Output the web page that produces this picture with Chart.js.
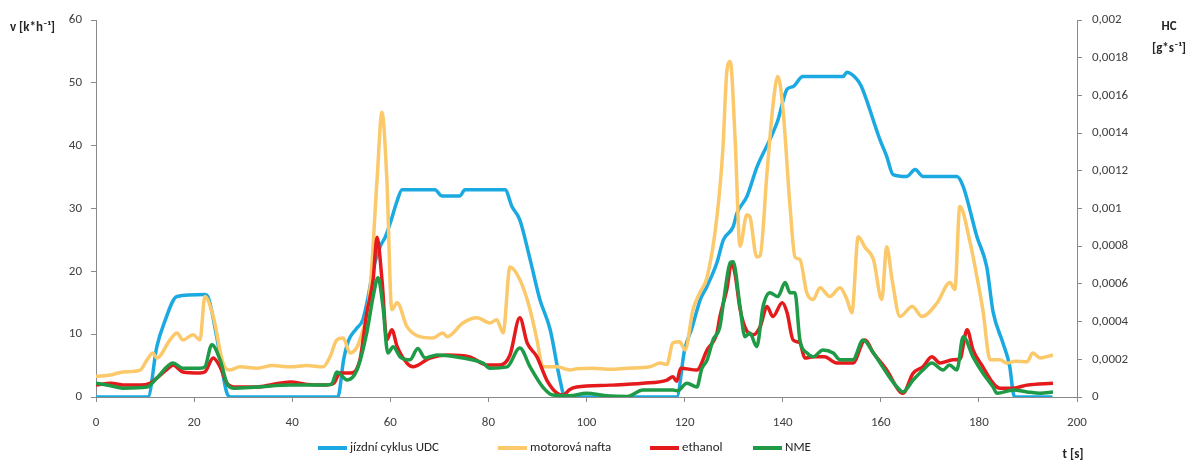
<!DOCTYPE html>
<html>
<head>
<meta charset="utf-8">
<script src="https://cdn.jsdelivr.net/npm/chart.js@4.4.1/dist/chart.umd.min.js"></script>
<style>
  html, body { margin: 0; padding: 0; background: #ffffff; }
  #wrap { width: 1195px; height: 464px; }
</style>
</head>
<body>
<div id="wrap"><canvas id="c" width="1195" height="464"></canvas></div>
<script>
// ---- Data ----
const seriesNames = ['jízdní cyklus UDC', 'motorová nafta', 'ethanol', 'NME'];
const seriesColors = ['#1BA9E1', '#FBC86A', '#E41A1C', '#1F9A47'];

// Driving cycle UDC: time [s] / speed [km/h]
const timeUDC = [0,10.6,12.4,14,16.5,22.2,22.8,24.6,26.7,27.5,49.3,50.5,51.5,53,54.4,55.5,56.5,57.9,59,60,61.3,62.4,69.1,70.5,74.2,75.2,83.4,84.8,86.4,88.5,90.5,92.6,94.6,95.6,118.4,120,121.5,123.2,124.5,126.6,127.9,129.9,130.7,132.7,134.8,137.4,139,140.9,142.1,144.1,152.3,153.1,155.1,156,159.8,161.2,162.5,165.3,167,168.6,175.5,176.8,179.6,181.6,182.9,184.9,186.3,187,187.5,195];
const speedUDC = [0,0,8,12,16,16.3,16,9.6,0.6,0,0,6,9,10.8,12.3,16,20.3,23.9,25.5,27.7,31,33,33,32,32,33,33,30.3,28.2,21.9,15.5,10.7,2.7,0,0,7.5,11,15.5,17.5,21.4,25,27.1,29.3,31.9,36.7,41,44,49,49.4,51,51,51.7,50.6,49.5,41,38.3,35.4,35.1,36.2,35.1,35.1,33.5,25.5,20.7,13.5,8.6,4.8,0.6,0,0];

// HC emissions [g/s] — diesel (motorová nafta)
const timeNafta = [0,3,5.5,9,10.4,11.6,12.4,15.1,16.5,17.7,19.8,21.2,22.2,23.9,25.9,27.3,29.4,32.8,36,39.6,43,46.3,47.7,49.1,50.4,51.8,53.8,55.9,57.3,58.3,59.3,60.3,61.4,63.4,66,68.7,70.7,71.6,74.8,77.7,80.3,81.7,83,84.4,86.4,88.5,89.9,91.1,94,96.6,98,101.3,105,108.3,112.9,115,116.4,117.6,119,120.1,121.7,123.1,124.6,126.6,127.8,128.6,129.3,130.3,131.3,132.7,133.3,134.7,135.4,136.8,138,139,140,141.5,142.5,143.5,144.9,146.2,147.6,149.6,151.7,153.1,154.1,155.4,156.8,158.5,160.2,161.2,162.3,163.9,166.4,168.4,171.5,174.1,175.1,176.1,178.2,179.6,180.8,182.3,184.3,185.7,187.5,189.8,191,192.5,195.1];
const hcNafta = [1.10e-4,1.17e-4,1.33e-4,1.43e-4,1.97e-4,2.33e-4,2.07e-4,3.03e-4,3.40e-4,3.03e-4,3.30e-4,3.03e-4,5.33e-4,4.27e-4,1.80e-4,1.43e-4,1.60e-4,1.53e-4,1.67e-4,1.60e-4,1.67e-4,1.60e-4,2.13e-4,3.03e-4,3.13e-4,2.33e-4,3.03e-4,5.83e-4,11.53e-4,15.10e-4,11.53e-4,4.63e-4,5.00e-4,3.73e-4,3.20e-4,3.13e-4,3.40e-4,3.20e-4,3.93e-4,4.20e-4,3.93e-4,4.10e-4,3.40e-4,6.90e-4,6.23e-4,4.63e-4,3.03e-4,1.60e-4,1.60e-4,1.43e-4,1.50e-4,1.53e-4,1.47e-4,1.53e-4,1.60e-4,1.80e-4,1.73e-4,2.87e-4,2.93e-4,2.50e-4,4.63e-4,5.53e-4,6.37e-4,9.57e-4,13.13e-4,17.23e-4,17.80e-4,13.67e-4,8.00e-4,9.67e-4,9.57e-4,7.43e-4,7.50e-4,11.90e-4,15.43e-4,17.00e-4,15.43e-4,10.10e-4,7.43e-4,7.30e-4,5.53e-4,5.17e-4,5.80e-4,5.33e-4,5.80e-4,5.17e-4,4.47e-4,8.50e-4,7.93e-4,7.30e-4,5.17e-4,7.97e-4,6.23e-4,4.27e-4,4.80e-4,4.27e-4,5.00e-4,6.07e-4,5.70e-4,10.10e-4,8.20e-4,6.37e-4,4.63e-4,1.97e-4,1.97e-4,1.80e-4,1.90e-4,1.87e-4,2.33e-4,2.07e-4,2.23e-4];

// HC emissions [g/s] — ethanol
const timeEthanol = [0,3,6,9,11,12.4,15.1,15.7,17.7,21.2,22.2,23.9,25.3,26.7,28,32.8,36,39.6,43,46.3,48.5,49.7,51.8,53.8,55.2,56.5,57.3,58.3,59.3,60.3,61.4,63.4,64.6,68.1,71.6,76.2,79.7,82.4,84.4,86.4,87.9,89.9,91.9,94,95.2,96.6,98,104.8,111.5,116.4,117.6,118.4,119.2,122.5,124.6,126.6,127.2,128.6,129.6,130.3,131.3,132.7,134,135.4,136.8,138,139.9,140.9,142.1,143.5,144.5,146.2,148.5,151,154.3,156.8,158.5,161.2,163.9,164.5,166.6,168.6,170.4,172.1,174.7,176.1,177.6,178.8,180.8,182.9,184.3,187,189.8,195.1];
const hcEthanol = [0.63e-4,0.73e-4,0.63e-4,0.63e-4,0.73e-4,1.00e-4,1.60e-4,1.70e-4,1.33e-4,1.27e-4,1.33e-4,2.07e-4,1.60e-4,0.73e-4,0.53e-4,0.53e-4,0.67e-4,0.80e-4,0.67e-4,0.63e-4,0.73e-4,1.27e-4,1.27e-4,1.97e-4,4.47e-4,6.23e-4,8.47e-4,6.23e-4,3.03e-4,3.57e-4,2.67e-4,1.80e-4,1.60e-4,2.07e-4,2.23e-4,2.13e-4,1.70e-4,1.70e-4,2.23e-4,4.20e-4,2.87e-4,2.13e-4,0.90e-4,0.20e-4,0.10e-4,0.40e-4,0.53e-4,0.63e-4,0.73e-4,0.90e-4,1.07e-4,0.83e-4,1.53e-4,1.43e-4,2.50e-4,3.40e-4,4.27e-4,5.70e-4,7.13e-4,6.50e-4,4.67e-4,3.50e-4,3.30e-4,3.73e-4,4.80e-4,4.27e-4,5.00e-4,4.47e-4,3.03e-4,2.87e-4,2.07e-4,2.13e-4,2.13e-4,1.80e-4,1.80e-4,3.03e-4,2.33e-4,1.43e-4,0.27e-4,0.20e-4,1.27e-4,1.60e-4,2.13e-4,1.80e-4,1.97e-4,2.00e-4,3.57e-4,2.50e-4,1.60e-4,0.73e-4,0.47e-4,0.47e-4,0.63e-4,0.73e-4];

// HC emissions [g/s] — NME
const timeNME = [0,3,5.5,10.4,12.4,15.7,17.7,21.2,22.2,23.6,25.3,26.7,28,32.8,39.6,46.3,48,49.1,51.2,53.2,55.2,56.5,57.5,58.5,59.5,60.6,62,64,65.6,67.1,69.5,74.8,78.9,80.3,83.8,86.4,88.5,91.1,93.2,96.6,100,104,108.3,111.5,117.6,118.5,120.5,122.5,123.5,124.6,125.8,127.2,128,129.3,129.9,131.3,132.3,133.3,134.7,136,137.4,139,140.5,141.5,142.5,143.5,145,146.2,148.2,150.3,151.7,154.3,156.4,158.5,161.2,163.3,164.5,166.6,168.6,170.4,172.7,174,175.5,176.8,178.8,180.8,182.9,183.7,187,189.8,192.5,195.1];
const hcNME = [0.73e-4,0.60e-4,0.47e-4,0.53e-4,1.00e-4,1.80e-4,1.53e-4,1.53e-4,1.60e-4,2.77e-4,1.97e-4,0.73e-4,0.47e-4,0.53e-4,0.63e-4,0.63e-4,0.67e-4,1.33e-4,0.90e-4,1.43e-4,3.40e-4,5.33e-4,6.33e-4,4.80e-4,2.33e-4,2.67e-4,2.13e-4,1.97e-4,2.57e-4,2.07e-4,2.23e-4,2.07e-4,1.80e-4,1.53e-4,1.60e-4,2.60e-4,1.60e-4,0.53e-4,0.10e-4,0.07e-4,0.20e-4,0.07e-4,0.03e-4,0.37e-4,0.37e-4,0.33e-4,0.73e-4,0.53e-4,1.50e-4,1.97e-4,3.03e-4,3.73e-4,5.17e-4,7.13e-4,7.17e-4,4.80e-4,3.20e-4,3.40e-4,2.67e-4,4.80e-4,5.53e-4,5.33e-4,6.07e-4,5.53e-4,5.53e-4,3.03e-4,2.33e-4,2.13e-4,2.50e-4,2.33e-4,1.97e-4,1.97e-4,3.03e-4,2.33e-4,1.27e-4,0.53e-4,0.27e-4,0.90e-4,1.43e-4,1.80e-4,1.43e-4,1.70e-4,1.43e-4,3.20e-4,2.13e-4,1.27e-4,0.53e-4,0.20e-4,0.37e-4,0.27e-4,0.20e-4,0.27e-4];

// Tick values
const xTicks = [0,20,40,60,80,100,120,140,160,180,200];
const leftTicks = [0,10,20,30,40,50,60];
const rightTicks = [0,0.0002,0.0004,0.0006,0.0008,0.001,0.0012,0.0014,0.0016,0.0018,0.002];

// ---- Build chart ----
const FONT = "Carlito, Lato, 'Open Sans', sans-serif";
const pairs = (xs, ys) => xs.map((x, i) => ({ x: x, y: ys[i] }));
const axisColor = '#8a8a8a';
const tickText = '#404040';

function ds(i, xs, ys, axis, order) {
  return {
    label: seriesNames[i],
    data: pairs(xs, ys),
    yAxisID: axis,
    borderColor: seriesColors[i],
    backgroundColor: seriesColors[i],
    borderWidth: 3.5,
    pointRadius: 0,
    cubicInterpolationMode: 'monotone',
    fill: false,
    order: order
  };
}

const titlesPlugin = {
  id: 'titles',
  afterDraw(chart) {
    const ctx = chart.ctx;
    ctx.save();
    ctx.fillStyle = '#262626';
    ctx.font = "bold 13px " + FONT;
    ctx.textBaseline = 'middle';
    ctx.textAlign = 'left';
    ctx.fillText('v [k*h\u207B\u00B9]', 10, 28);
    ctx.textAlign = 'center';
    ctx.fillText('HC', 1169, 27);
    ctx.fillText('[g*s\u207B\u00B9]', 1169, 49);
    ctx.fillText('t [s]', 1073, 455);
    // legend
    const starts = [318, 498, 650, 753];
    const ly = 448;
    ctx.font = "13px " + FONT;
    ctx.textAlign = 'left';
    chart.data.datasets.forEach((d, i) => {
      const x0 = starts[i];
      ctx.strokeStyle = d.borderColor;
      ctx.lineWidth = 4;
      ctx.lineCap = 'butt';
      ctx.beginPath();
      ctx.moveTo(x0, ly);
      ctx.lineTo(x0 + 29, ly);
      ctx.stroke();
      ctx.fillStyle = '#262626';
      ctx.fillText(d.label, x0 + 32, ly);
    });
    ctx.restore();
  }
};

const fmtComma = v => v === 0 ? '0' : String(Math.round(v * 1e5) / 1e5).replace('.', ',');

new Chart(document.getElementById('c'), {
  type: 'line',
  data: {
    datasets: [
      ds(0, timeUDC, speedUDC, 'y', 4),
      ds(1, timeNafta, hcNafta, 'y1', 3),
      ds(2, timeEthanol, hcEthanol, 'y1', 2),
      ds(3, timeNME, hcNME, 'y1', 1)
    ]
  },
  options: {
    responsive: false,
    animation: false,
    layout: { padding: { top: 20, left: 0, right: 0, bottom: 0 } },
    plugins: { legend: { display: false }, tooltip: { enabled: false } },
    scales: {
      x: {
        type: 'linear', min: 0, max: 200,
        afterBuildTicks: s => { s.ticks = xTicks.map(v => ({ value: v })); },
        afterFit: s => { s.height = 67; },
        grid: { drawOnChartArea: false, drawTicks: true, tickLength: 5, color: axisColor },
        border: { display: true, color: axisColor, width: 1 },
        ticks: { color: tickText, font: { family: FONT, size: 13 }, padding: 13, maxRotation: 0 }
      },
      y: {
        type: 'linear', position: 'left', min: 0, max: 60,
        afterBuildTicks: s => { s.ticks = leftTicks.map(v => ({ value: v })); },
        afterFit: s => { s.width = 96; },
        grid: { drawOnChartArea: false, drawTicks: true, tickLength: 5, color: axisColor },
        border: { display: true, color: axisColor, width: 1 },
        ticks: { color: tickText, font: { family: FONT, size: 13 }, padding: 9 }
      },
      y1: {
        type: 'linear', position: 'right', min: 0, max: 0.002,
        afterBuildTicks: s => { s.ticks = rightTicks.map(v => ({ value: v })); },
        afterFit: s => { s.width = 118; },
        grid: { drawOnChartArea: false, drawTicks: true, tickLength: 5, color: axisColor },
        border: { display: true, color: axisColor, width: 1 },
        ticks: { color: tickText, font: { family: FONT, size: 13 }, padding: 10, callback: fmtComma }
      }
    }
  },
  plugins: [titlesPlugin]
});
</script>
</body>
</html>
